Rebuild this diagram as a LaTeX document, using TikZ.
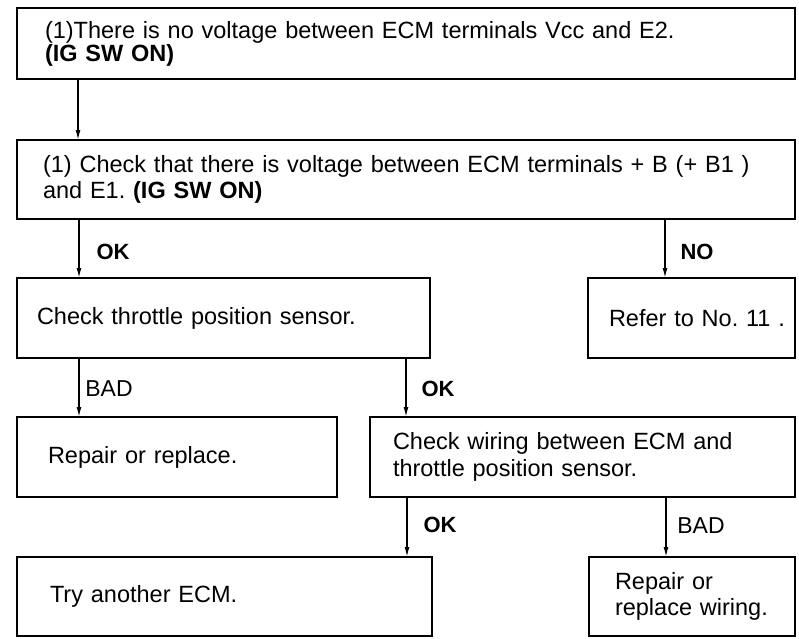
\documentclass[tikz,border=0pt]{standalone}
\usepackage{fontspec}
\setmainfont{Liberation Sans}
\usetikzlibrary{arrows.meta}

\begin{document}
\frenchspacing
\begin{tikzpicture}[x=1pt, y=-1pt,
  box/.style={draw, line width=2.2pt, anchor=north west, align=left, outer sep=0pt, inner ysep=0pt,
    font=\fontsize{23.5}{26.5}\selectfont},
  arr/.style={line width=1.4pt, -{Latex[length=10pt, width=5pt]}},
  lbl/.style={font=\fontsize{22}{22}\selectfont\bfseries},
  lblr/.style={font=\fontsize{23}{23}\selectfont}]
  \useasboundingbox (0,0) rectangle (799,638);

  \node[box, text width=722pt, inner xsep=28pt, minimum height=71pt,
    font=\fontsize{23.5}{20}\selectfont] (top) at (17,8)
    {(1)There is no voltage between ECM terminals Vcc and E2.\\\textbf{(IG SW ON)}};
  \node[box, text width=726pt, inner xsep=26pt, minimum height=79pt] (chk) at (17,140)
    {(1) Check that there is voltage between ECM terminals + B (+ B1 )\\and E1. \textbf{(IG SW ON)}};
  \node[box, text width=373pt, inner xsep=20pt, minimum height=80pt] (tps) at (17,278)
    {Check throttle position sensor.};
  \node[box, text width=165pt, inner xsep=21pt, minimum height=80pt] (ref) at (588,278)
    {\mbox{Refer to No. 11 .}};
  \node[box, text width=258pt, inner xsep=31pt, minimum height=80pt] (rep) at (17,417)
    {Repair or replace.};
  \node[box, text width=379pt, inner xsep=23pt, minimum height=80pt] (wir) at (370,417)
    {Check wiring between ECM and\\throttle position sensor.};
  \node[box, text width=349pt, inner xsep=33pt, minimum height=79pt] (ecm) at (17,557)
    {Try another ECM.};
  \node[box, text width=154pt, inner xsep=26pt, minimum height=79pt] (rpw) at (589,557)
    {Repair or\\replace wiring.};

  \draw[arr] ([xshift=61pt]top.south west) -- ([xshift=61pt]chk.north west);
  \draw[arr] ([xshift=62pt]chk.south west) -- ([xshift=62pt]tps.north west);
  \draw[arr] ([xshift=648pt]chk.south west) -- ([xshift=77pt]ref.north west);
  \draw[arr] ([xshift=62pt]tps.south west) -- ([xshift=62pt]rep.north west);
  \draw[arr] ([xshift=389pt]tps.south west) -- ([xshift=36pt]wir.north west);
  \draw[arr] ([xshift=37pt]wir.south west) -- ([xshift=390pt]ecm.north west);
  \draw[arr] ([xshift=296pt]wir.south west) -- ([xshift=77pt]rpw.north west);

  \node[lbl] (ok1) at (113,252) {OK};
  \node[lbl] (no) at (697,252) {NO};
  \node[lblr] (bad1) at (109,389) {BAD};
  \node[lbl] (ok2) at (438,389) {OK};
  \node[lbl] (ok3) at (440,525) {OK};
  \node[lblr] (bad2) at (701,526) {BAD};
\end{tikzpicture}
\end{document}
